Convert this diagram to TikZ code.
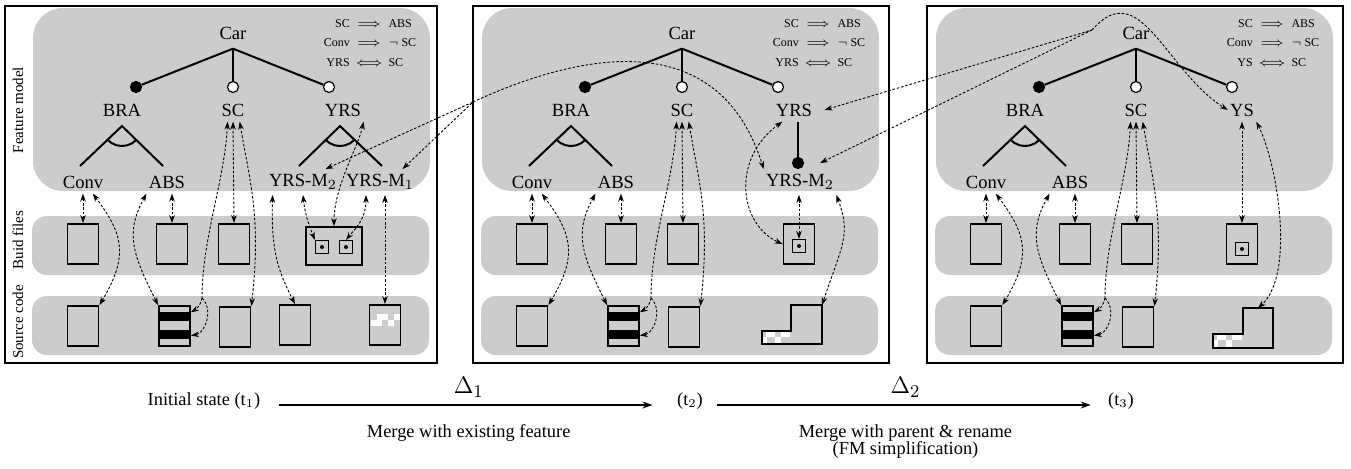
\documentclass[tikz,border=0pt]{standalone}
\usepackage{fontspec}
\setmainfont{Liberation Serif}
\usepackage{tikz}
\usetikzlibrary{arrows.meta,positioning,calc}
\definecolor{fmgris}{gray}{0.8}

\begin{document}
\begin{tikzpicture}[x=0.5pt, y=0.5pt,
  >={Stealth[length=4pt,width=2.8pt]},
  feat/.style={font=\fontsize{9.3}{11}\selectfont, inner xsep=1pt, inner ysep=2.5pt},
  lane/.style={fill=fmgris, rounded corners=7.5pt},
  frame/.style={draw, line width=1pt},
  tree/.style={line width=1pt},
  mand/.style={circle, draw, fill=black, line width=0.6pt, inner sep=0pt, minimum size=5.5pt},
  opt/.style={mand, fill=white},
  file/.style={draw, line width=0.9pt, inner sep=0pt, minimum width=15.5pt, minimum height=20pt},
  sub/.style={draw, line width=0.6pt, inner sep=0pt, minimum size=6.5pt},
  lnk/.style={<->, dash pattern=on 1.3pt off 0.9pt, line width=0.45pt},
  cstr/.style={font=\fontsize{6}{9.75}\selectfont, inner sep=0pt},
  lbl/.style={font=\fontsize{7.5}{9}\selectfont, rotate=90},
  evo/.style={-{Stealth[length=5pt,width=3.5pt]}, line width=0.6pt},
  txt/.style={font=\fontsize{9.2}{8.8}\selectfont}
]
  \useasboundingbox (0,0) rectangle (1351,-468);

  % Frames
  \draw[frame] (5,-6) rectangle (437,-363);
  \draw[frame] (473,-6) rectangle (889,-363);
  \draw[frame] (927,-6) rectangle (1343,-363);

  \node[lbl] (lfm) at (18,-110) {Feature model};
  \node[lbl] (lbf) at (18,-240) {Buid files};
  \node[lbl] (lsc) at (18,-322) {Source code};

  % parts shared by the three states
  \foreach \p/\dx/\yn in {1/0/YRS, 2/449/YRS, 3/903/YS} {
  \begin{scope}[shift={(\dx,0)}]
    \fill[lane, rounded corners=15pt] (33,-8) rectangle (430,-191);
    \fill[lane] (32,-216) rectangle (429,-275);
    \fill[lane] (32,-296) rectangle (429,-355);

    \node[feat] (car\p) at (233,-33) {Car};
    \node[mand] (dbra\p) at (136,-87) {};
    \node[opt] (dsc\p) at (233,-87) {};
    \node[opt] (dthr\p) at (329,-87) {};
    \draw[tree] ([yshift=-2pt]car\p.south) -- (dbra\p);
    \draw[tree] ([yshift=-2pt]car\p.south) -- (dsc\p);
    \draw[tree] ([yshift=-2pt]car\p.south) -- (dthr\p);

    \node[cstr] (rules\p) at (370,-43)
      {\begin{tabular}{@{}r@{\hspace{3pt}}c@{\hspace{3pt}}l@{}}
        SC & $\Longrightarrow$ & ABS\\
        Conv & $\Longrightarrow$ & $\neg$ SC\\
        \yn & $\Longleftrightarrow$ & SC
       \end{tabular}};

    \node[feat] (bra\p) at (122,-110) {BRA};
    \node[feat] (sc\p) at (233,-110) {SC};
    \node[feat] (conv\p) at (83,-182) {Conv};
    \node[feat] (abs\p) at (167,-182) {ABS};
    \coordinate (gbra\p) at (122,-126);
    \draw[tree] (80,-166) -- (gbra\p) -- (163,-166);
    \draw[tree] (gbra\p) ++(224:20) arc[start angle=224, end angle=316, radius=20];

    % files
    \node[file] (bldconv\p) at (83,-244) {};
    \node[file] (bldabs\p) at (172,-244) {};
    \node[file] (bldsc\p) at (234,-244) {};
    \node[file] (srcconv\p) at (83,-326) {};
    \fill (159,-312) rectangle (190,-321);
    \fill (159,-330) rectangle (190,-339);
    \node[file] (srcabs\p) at (174.5,-326) {};
    \node[file] (srcsc\p) at (235,-327) {};

    % links
    \draw[lnk] (conv\p.south) -- (bldconv\p.north);
    \draw[lnk] (conv\p.-50) .. controls +(30,-40) and +(30,50) .. (srcconv\p.north east);
    \draw[lnk] (abs\p.south -| bldabs\p.north) -- (bldabs\p.north);
    \draw[lnk] (abs\p.south west) .. controls +(-22,-40) and +(-25,50) .. (srcabs\p.north west);
    \coordinate (split\p) at (202,-298);
    \draw[lnk,<-] (sc\p.-115) .. controls +(-3,-60) and +(0,60) .. (split\p);
    \draw[lnk,->] (split\p) to[out=-100,in=30] (srcabs\p.40);
    \draw[lnk,->] (split\p) .. controls +(12,-12) and +(14,2) .. (srcabs\p.-30);
    \draw[lnk] (sc\p.south) -- (bldsc\p.north);
    \draw[lnk] (sc\p.-60) .. controls +(10,-60) and +(10,90) .. (srcsc\p.north east);
  \end{scope}
  }

  % Initial state
  \node[feat] (yrs1) at (343,-110) {YRS};
  \node[feat] (yrsmb1) at (303,-182) {YRS-M$_2$};
  \node[feat] (yrsma1) at (380,-182) {YRS-M$_1$};
  \coordinate (gyrs1) at (340,-126);
  \draw[tree] (299,-166) -- (gyrs1) -- (382,-166);
  \draw[tree] (gyrs1) ++(224:20) arc[start angle=224, end angle=316, radius=20];
  \node[file, minimum width=28pt, minimum height=19pt] (bldy1) at (334,-246) {};
  \node[sub] (subb1) at (322,-247) {};
  \fill (subb1) circle[radius=2];
  \node[sub] (suba1) at (346,-247) {};
  \fill (suba1) circle[radius=2];
  \node[file] (srcb1) at (295,-325) {};
  \fill[white] (377,-314) rectangle (388,-320);
  \fill[white] (394,-314) rectangle (400,-320);
  \fill[white] (370.5,-320) rectangle (382,-326);
  \fill[white] (388,-320) rectangle (394,-326);
  \node[file] (srca1) at (385,-325) {};

  \draw[lnk] ([xshift=3pt]yrsmb1.south west) .. controls +(-2,-60) and +(-15,30) .. (srcb1.north);
  \draw[lnk] (yrsmb1.south) .. controls +(2,-20) and +(-5,12) .. (subb1.north west);
  \draw[lnk] (yrs1.south east) .. controls +(-5,-25) and +(0,40) .. (bldy1.north);
  \draw[lnk] ([xshift=-7pt]yrsma1.south) .. controls +(0,-25) and +(8,10) .. (suba1.north);
  \draw[lnk] (yrsma1.south -| srca1.north) -- (srca1.north);

  % t2
  \node[feat] (yrs2) at (794,-110) {YRS};
  \node[mand] (dm2) at (798,-163) {};
  \draw[line width=0.6pt] (yrs2.south -| dm2) -- (dm2);
  \node[feat] (yrsm2) at (800,-182) {YRS-M$_2$};
  \node[file] (bldy2) at (799,-244) {};
  \node[sub] (sub2) at (799,-246) {};
  \fill (sub2) circle[radius=2];
  \fill[white] (766,-331.5) rectangle (775,-337);
  \fill[white] (781,-331.5) rectangle (790,-337);
  \fill[white] (762.5,-337) rectangle (767,-343.5);
  \fill[white] (775,-337) rectangle (781,-343.5);
  \draw[line width=0.9pt] (762,-331) -- (791,-331) -- (791,-305) -- (822,-305)
    -- (822,-344) -- (762,-344) -- cycle;
  \coordinate (stair2) at (822,-305);

  \draw[lnk] (yrs2.-135) .. controls (730,-160) and (740,-225) .. (bldy2.west);
  \draw[lnk] (yrsm2.south -| sub2.north) -- (sub2.north);
  \draw[lnk] (yrsm2.south east) .. controls +(15,-40) and +(20,60) .. (stair2);

  % t3
  \node[feat] (ys3) at (1242,-110) {YS};
  \node[file] (bldy3) at (1242,-244) {};
  \node[sub] (sub3) at (1242,-249) {};
  \fill (sub3) circle[radius=2];
  \fill[white] (1217,-334.5) rectangle (1226,-340);
  \fill[white] (1232,-334.5) rectangle (1242,-340);
  \fill[white] (1213.5,-340) rectangle (1218,-347.5);
  \fill[white] (1226,-340) rectangle (1232,-347.5);
  \draw[line width=0.9pt] (1213,-334) -- (1243,-334) -- (1243,-308) -- (1273,-308)
    -- (1273,-348) -- (1213,-348) -- cycle;
  \coordinate (stair3) at (1258,-308);

  \draw[lnk] (ys3.south -| bldy3.north) -- (bldy3.north);
  \draw[lnk] (ys3.south east) .. controls (1278,-165) and (1295,-275) .. (stair3);

  % evolution links between states
  \coordinate (j1) at (473,-102);
  \draw[lnk,<-] (yrsmb1.30) -- (j1);
  \draw[lnk,<-] (yrsma1.30) -- (j1);
  \draw[lnk,->] (j1) .. controls (590,-48) and (720,-30) .. (yrsm2.north west);
  \coordinate (j2) at (1092,-30);
  \draw[lnk,<-] ([xshift=5pt]yrs2.east) -- (j2);
  \draw[lnk,<-] ([xshift=8pt]dm2.east) -- (j2);
  \draw[lnk,->] (j2) .. controls (1140,25) and (1165,-70) .. (ys3.west);

  % time line
  \node[txt, anchor=base] (t1) at (204,-405) {Initial state (t$_1$)};
  \node[txt, anchor=base] (t2) at (690,-405) {(t$_2$)};
  \node[txt, anchor=base] (t3) at (1121,-405) {(t$_3$)};
  \draw[evo, shorten <=6pt, shorten >=8.8pt] (t1.base east) --
    node[above=3.5pt, inner sep=0pt, font=\fontsize{13}{15}\selectfont] (d1) {$\Delta_1$}
    node[below=9.5pt, inner sep=0pt, txt] (m1) {Merge with existing feature} (t2.base west);
  \draw[evo, shorten <=3.7pt, shorten >=5.2pt] (t2.base east) --
    node[above=3.5pt, inner sep=0pt, font=\fontsize{13}{15}\selectfont] (d2) {$\Delta_2$}
    node[below=9.5pt, inner sep=0pt, txt, align=center] (m2) {Merge with parent \& rename\\(FM simplification)} (t3.base west);
\end{tikzpicture}
\end{document}
